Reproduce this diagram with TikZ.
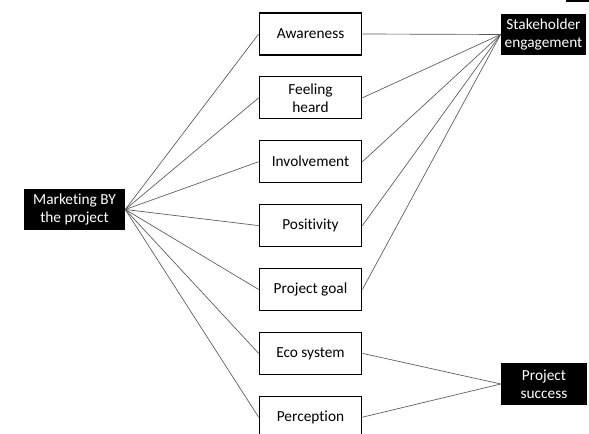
\documentclass[tikz,border=0pt]{standalone}
\usepackage{fontspec}
\setmainfont[Ligatures=NoCommon]{Carlito}
\usetikzlibrary{positioning}
\tikzset{
  item style/.style={rectangle, draw=black, line width=0.8pt, fill=white,
    minimum width=77pt, minimum height=31.5pt, align=center, inner sep=1pt,
    font=\fontsize{11.5}{13.6}\selectfont},
  dark style/.style={rectangle, fill=black, text=white, align=center, inner sep=1pt,
    minimum height=31pt, font=\fontsize{11.5}{13.6}\selectfont},
  link style/.style={draw=black!65, line width=0.5pt}
}
\begin{document}
\begin{tikzpicture}[x=0.75pt, y=-0.75pt, node distance=15.6pt]
\useasboundingbox (0,0) rectangle (589,434);
% left and right labels
\node[dark style, minimum width=75.75pt] (m) at (74.5,209.5) {Marketing BY\\the project};
\node[dark style, minimum width=64pt] (s) at (543.5,34.5) {Stakeholder\\engagement};
\node[dark style, minimum width=64.5pt] (p) at (544,384) {Project\\success};
\fill[black] (566,0) rectangle (589,2);
% middle column
\node[item style] (c1) at (310.5,34) {Awareness};
\node[item style, below=of c1] (c2) {Feeling\\heard};
\node[item style, below=of c2] (c3) {Involvement};
\node[item style, below=of c3] (c4) {Positivity};
\node[item style, below=of c4] (c5) {Project goal};
\node[item style, below=of c5] (c6) {Eco system};
\node[item style, below=of c6] (c7) {Perception};
% links from the left
\draw[link style] (m.east) -- (c1.west);
\draw[link style] (m.east) -- (c2.west);
\draw[link style] (m.east) -- (c3.west);
\draw[link style] (m.east) -- (c4.west);
\draw[link style] (m.east) -- (c5.west);
\draw[link style] (m.east) -- (c6.west);
\draw[link style] (m.east) -- (c7.west);
% links to the right
\draw[link style] (c1.east) -- (s.west);
\draw[link style] (c2.east) -- (s.west);
\draw[link style] (c3.east) -- (s.west);
\draw[link style] (c4.east) -- (s.west);
\draw[link style] (c5.east) -- (s.west);
\draw[link style] (c6.east) -- (p.west);
\draw[link style] (c7.east) -- (p.west);
\end{tikzpicture}
\end{document}
